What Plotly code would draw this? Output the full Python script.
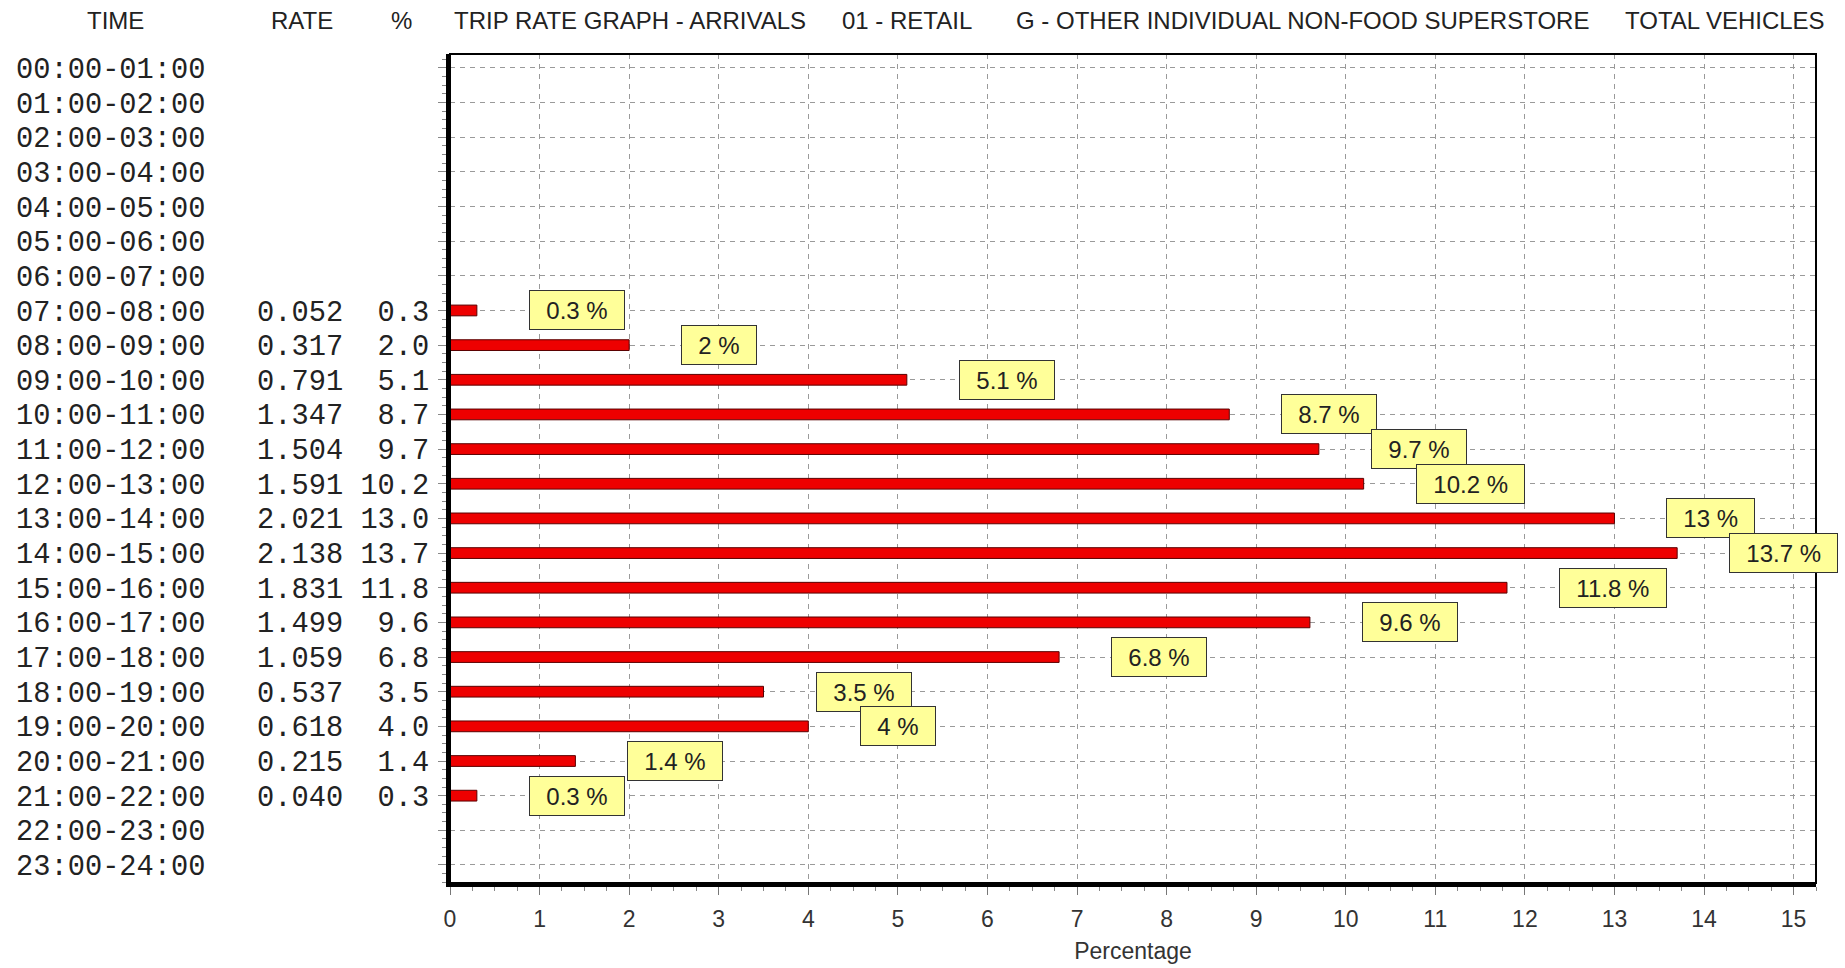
import plotly.graph_objects as go

# Hourly periods (rows of the chart, top to bottom)
times = [f"{h:02d}:00-{h + 1:02d}:00" for h in range(24)]

# Trip rate per period and share of daily arrivals (%); None = no data
rates = [None] * 7 + [0.052, 0.317, 0.791, 1.347, 1.504, 1.591, 2.021, 2.138,
                      1.831, 1.499, 1.059, 0.537, 0.618, 0.215, 0.040] + [None] * 2
pcts = [None] * 7 + [0.3, 2.0, 5.1, 8.7, 9.7, 10.2, 13.0, 13.7,
                     11.8, 9.6, 6.8, 3.5, 4.0, 1.4, 0.3] + [None] * 2

x_ticks = list(range(16))

NB = "\u00a0"

# Plot area in pixels
W, H = 1845, 968
L, R, T, B = 450, 1816, 54, 883


def px_x(p):
    return (p - L) / (R - L)


def px_y(p):
    return (B - p) / (B - T)


# Monospace row labels: time, rate, percentage columns
row_text = []
for t, r, p in zip(times, rates, pcts):
    if r is None:
        row_text.append(t + NB * 13)
    else:
        row_text.append(t + NB * 3 + f"{r:.3f}".rjust(5, NB) + NB + f"{p:.1f}".rjust(4, NB))

rows = [i for i, p in enumerate(pcts) if p is not None]
vals = [pcts[i] for i in rows]

fig = go.Figure()
fig.add_trace(go.Bar(
    x=vals, y=rows, orientation="h", width=0.31,
    marker=dict(color="#EE0000", line=dict(color="#5a0000", width=1)),
    hoverinfo="skip",
))

annotations = []
for i, v in zip(rows, vals):
    annotations.append(dict(
        x=v, y=i, xref="x", yref="y", xanchor="left", yanchor="middle",
        xshift=52, showarrow=False,
        text=NB * 2 + f"{v:g} %" + NB * 2,
        font=dict(family="Liberation Sans", size=24, color="#222222"),
        bgcolor="#FFFF99", bordercolor="#333333", borderwidth=1, borderpad=3,
        height=32, align="center",
    ))

hdr_font = dict(family="Liberation Sans", size=24, color="#222222")
headers = [
    ("TIME", 115, "center"),
    ("RATE", 302, "center"),
    ("%", 401, "center"),
    ("TRIP RATE GRAPH - ARRIVALS", 452, "left"),
    ("01 - RETAIL", 840, "left"),
    ("G - OTHER INDIVIDUAL NON-FOOD SUPERSTORE", 1014, "left"),
    ("TOTAL VEHICLES", 1827, "right"),
]
for txt, xp, anc in headers:
    annotations.append(dict(
        x=px_x(xp), y=px_y(21), xref="paper", yref="paper",
        xanchor=anc, yanchor="middle", showarrow=False, text=txt, font=hdr_font,
    ))

fig.update_layout(
    width=W, height=H,
    margin=dict(l=L, r=W - R, t=T, b=H - B, autoexpand=False),
    paper_bgcolor="white", plot_bgcolor="white",
    showlegend=False,
    annotations=annotations,
    shapes=[dict(type="rect", xref="paper", yref="paper", x0=0, x1=1, y0=0, y1=1,
                 line=dict(color="black", width=2), layer="above")],
    xaxis=dict(
        range=[0, 15.25], tickvals=x_ticks, ticktext=[str(v) for v in x_ticks],
        automargin=False,
        showline=True, linecolor="black", linewidth=4,
        ticks="outside", ticklen=8, tickcolor="#777777", tickwidth=1,
        tickfont=dict(family="Liberation Sans", size=23, color="#333333"),
        ticklabelstandoff=4,
        showgrid=True, gridcolor="#9a9a9a", gridwidth=1, griddash="5px,5px",
        zeroline=False,
        minor=dict(dtick=0.25, tick0=0, ticks="outside", ticklen=4,
                   tickcolor="#888888", showgrid=False),
        title=dict(text="Percentage", font=dict(family="Liberation Sans", size=23, color="#333333"),
                   standoff=13),
    ),
    yaxis=dict(
        range=[23.52, -0.40], tickvals=list(range(24)), ticktext=row_text,
        automargin=False,
        showline=True, linecolor="black", linewidth=4,
        ticks="outside", ticklen=8, tickcolor="#888888", tickwidth=1,
        tickfont=dict(family="Liberation Mono", size=28.7, color="#222222"),
        ticklabelstandoff=3,
        showgrid=True, gridcolor="#9a9a9a", gridwidth=1, griddash="5px,5px",
        zeroline=False,
        minor=dict(dtick=0.25, tick0=0, ticks="outside", ticklen=4,
                   tickcolor="#888888", showgrid=False),
    ),
)

fig.write_html("out.html")
